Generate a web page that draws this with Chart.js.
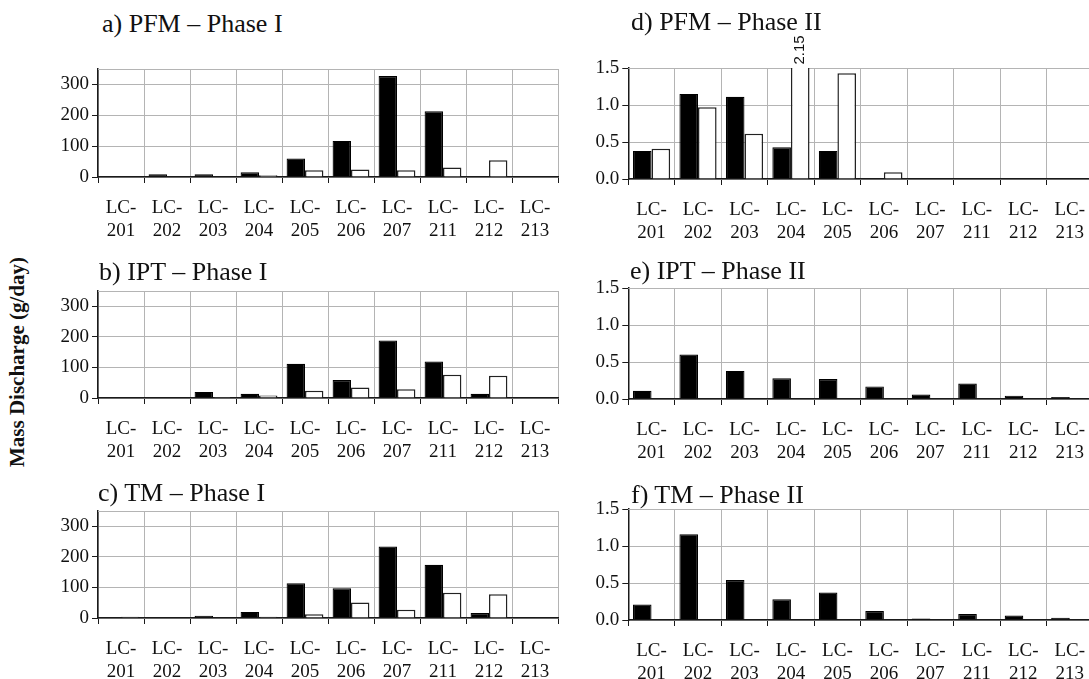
<!DOCTYPE html>
<html><head><meta charset="utf-8">
<script src="https://cdn.jsdelivr.net/npm/chart.js@4.4.1/dist/chart.umd.min.js"></script>
<style>
html,body{margin:0;padding:0;background:#fff;width:1089px;height:679px;overflow:hidden;position:relative;}
canvas{position:absolute;}
.ttl{position:absolute;font-family:'Liberation Serif',serif;font-size:26px;line-height:26px;color:#111;white-space:nowrap;}
#ylab{position:absolute;font-family:'Liberation Serif',serif;font-weight:bold;font-size:21px;color:#111;white-space:nowrap;transform:translate(-50%,-50%) rotate(-90deg);left:17px;top:362px;}
</style></head>
<body>
<div id="ylab">Mass Discharge (g/day)</div>
<script>
// ---- data ----
const categories = ['201','202','203','204','205','206','207','211','212','213'];
const aBlack = [0, 9, 9, 15, 60, 117, 327, 213, 2, 0];
const aWhite = [0, 0, 0, 6, 22, 24, 22, 31, 54, 0];
const bBlack = [0, 2, 20, 14, 112, 59, 188, 119, 14, 0];
const bWhite = [2, 0, 3, 8, 24, 34, 29, 76, 73, 0];
const cBlack = [2, 2, 7, 20, 114, 97, 234, 174, 16, 1];
const cWhite = [4, 2, 2, 4, 12, 51, 27, 83, 78, 1];
const dBlack = [0.38, 1.15, 1.11, 0.43, 0.38, 0, 0, 0, 0, 0];
const dWhite = [0.41, 0.97, 0.61, 2.15, 1.43, 0.09, 0, 0, 0, 0];
const eBlack = [0.11, 0.60, 0.38, 0.28, 0.27, 0.17, 0.06, 0.21, 0.045, 0.027];
const eWhite = [0, 0, 0, 0, 0, 0, 0, 0, 0, 0];
const fBlack = [0.21, 1.16, 0.54, 0.28, 0.37, 0.12, 0.02, 0.08, 0.06, 0.03];
const fWhite = [0, 0, 0, 0, 0, 0, 0, 0, 0, 0];
const phaseIMax = 350, phaseIIMax = 1.5;
const phaseITicks = [0, 100, 200, 300];
const phaseIITicks = [0, 0.5, 1.0, 1.5];
const titles = ['a) PFM – Phase I','b) IPT – Phase I','c) TM – Phase I','d) PFM – Phase II','e) IPT – Phase II','f) TM – Phase II'];

// ---- layout ----
const SERIF = "'Liberation Serif', serif";
const panels = [
  {t:0, black:aBlack, white:aWhite, max:phaseIMax, ticks:phaseITicks, dec:0, area:{l:98, t:69.3, r:558.3, b:177.3}, tx:102, tb:32.3},
  {t:1, black:bBlack, white:bWhite, max:phaseIMax, ticks:phaseITicks, dec:0, area:{l:98, t:290.7, r:558.3, b:397.7}, tx:99, tb:281},
  {t:2, black:cBlack, white:cWhite, max:phaseIMax, ticks:phaseITicks, dec:0, area:{l:98, t:510.7, r:558.3, b:617.7}, tx:98, tb:502},
  {t:3, black:dBlack, white:dWhite, max:phaseIIMax, ticks:phaseIITicks, dec:1, area:{l:628.3, t:68.3, r:1092.6, b:179.3}, tx:631, tb:30.5, overflowLabel:true},
  {t:4, black:eBlack, white:eWhite, max:phaseIIMax, ticks:phaseIITicks, dec:1, area:{l:628.3, t:288.3, r:1092.6, b:399.3}, tx:630, tb:280},
  {t:5, black:fBlack, white:fWhite, max:phaseIIMax, ticks:phaseIITicks, dec:1, area:{l:628.3, t:509.3, r:1092.6, b:620.7}, tx:631, tb:503.5}
];

const GRID = '#b4b4b4', AXIS = '#1a1a1a';

const framePlugin = {
  id: 'frame',
  beforeDatasetsDraw(chart) {
    const a = chart.chartArea, ctx = chart.ctx;
    ctx.save();
    ctx.strokeStyle = GRID; ctx.lineWidth = 1;
    ctx.beginPath(); ctx.moveTo(a.left, Math.round(a.top) + 0.5); ctx.lineTo(a.right, Math.round(a.top) + 0.5); ctx.stroke();
    ctx.restore();
    ctx.save();
    ctx.beginPath();
    ctx.rect(0, Math.round(a.top), chart.width, chart.height - Math.round(a.top));
    ctx.clip();
  },
  afterDatasetsDraw(chart) {
    chart.ctx.restore();
  }
};

const overflowPlugin = {
  id: 'overflowLabel',
  afterDatasetsDraw(chart, args, opts) {
    if (!opts || !opts.enabled) return;
    const meta = chart.getDatasetMeta(1);
    const ds = chart.data.datasets[1].data;
    const ctx = chart.ctx, a = chart.chartArea;
    ds.forEach((v, i) => {
      if (v > chart.scales.y.max) {
        const el = meta.data[i];
        ctx.save();
        ctx.translate(el.x, a.top - 18);
        ctx.rotate(-Math.PI / 2);
        ctx.font = "15px 'Liberation Sans', Arial, sans-serif";
        ctx.fillStyle = '#111';
        ctx.textAlign = 'center'; ctx.textBaseline = 'middle';
        ctx.fillText(v.toFixed(2), 0, 0);
        ctx.restore();
      }
    });
  }
};

panels.forEach(p => {
  const canvasLeft = p.area.l < 300 ? 0 : 540;
  const padTop = p.overflowLabel ? 62 : 16, padRight = 12, xh = 72;
  const W = Math.round(p.area.r + padRight - canvasLeft);
  const H = Math.round(padTop + (p.area.b - p.area.t) + xh);
  const cv = document.createElement('canvas');
  cv.width = W; cv.height = H;
  cv.style.left = canvasLeft + 'px';
  cv.style.top = (p.area.t - padTop) + 'px';
  cv.style.width = W + 'px'; cv.style.height = H + 'px';
  document.body.appendChild(cv);

  const tdiv = document.createElement('div');
  tdiv.className = 'ttl';
  tdiv.textContent = titles[p.t];
  tdiv.style.left = p.tx + 'px';
  tdiv.style.top = (p.tb - 21.8) + 'px';
  document.body.appendChild(tdiv);

  new Chart(cv, {
    type: 'bar',
    data: {
      labels: categories.map(c => ['LC-', c]),
      datasets: [
        {data: p.black, backgroundColor: '#000', borderColor: '#000', borderWidth: 1.2, borderSkipped: 'start', clip: false},
        {data: p.white, backgroundColor: '#fff', borderColor: '#222', borderWidth: 1.5, borderSkipped: 'start', clip: false}
      ]
    },
    options: {
      responsive: false,
      animation: false,
      devicePixelRatio: 1,
      layout: {padding: {top: padTop, right: padRight, left: 0, bottom: 0}},
      plugins: {legend: {display: false}, tooltip: {enabled: false}, overflowLabel: {enabled: !!p.overflowLabel}},
      datasets: {bar: {categoryPercentage: 0.8, barPercentage: 1.0}},
      scales: {
        x: {
          grid: {color: GRID, tickColor: AXIS, tickLength: 6, offset: true, lineWidth: 1},
          border: {color: AXIS, width: 1.5},
          ticks: {color: '#111', font: {family: SERIF, size: 19, lineHeight: 1.18}, padding: 14, maxRotation: 0, autoSkip: false},
          afterFit: s => { s.height = xh; }
        },
        y: {
          min: 0, max: p.max,
          grid: {color: GRID, tickColor: AXIS, tickLength: 6, lineWidth: 1},
          border: {color: AXIS, width: 1.5},
          ticks: {color: '#111', font: {family: SERIF, size: 19}, padding: 3,
                  callback: v => Number(v).toFixed(p.dec)},
          afterBuildTicks: s => { s.ticks = p.ticks.map(v => ({value: v})); },
          afterFit: s => { s.width = p.area.l - canvasLeft; }
        }
      }
    },
    plugins: [framePlugin, overflowPlugin]
  });
});
</script>
</body></html>
